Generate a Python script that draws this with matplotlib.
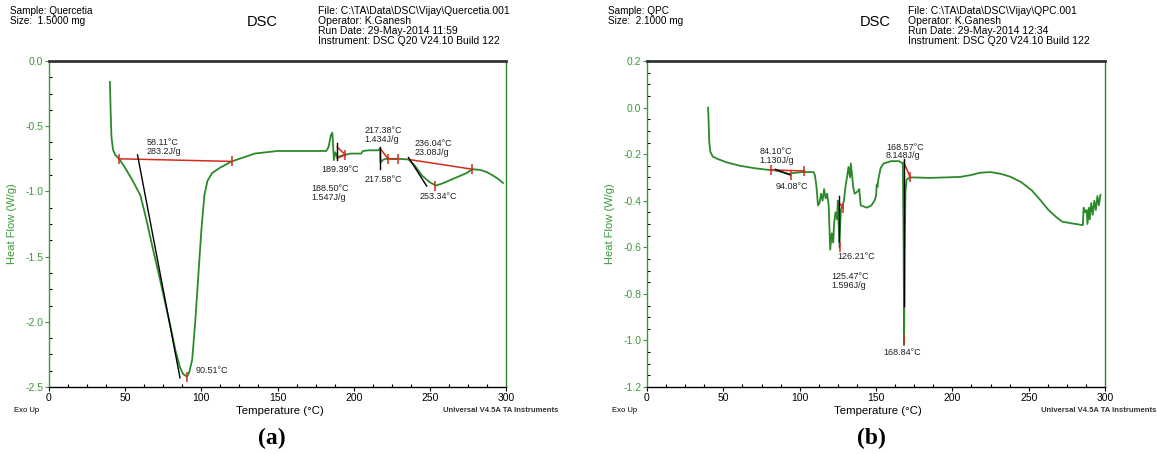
import matplotlib
matplotlib.use("Agg")
import matplotlib.pyplot as plt
from matplotlib.ticker import MultipleLocator

plt.rcParams["font.family"] = ["Liberation Sans", "DejaVu Sans"]

W, H = 1157, 454
GREEN = "#2a8a2a"
AXGREEN = "#3a9a3a"
RED = "#d42a1e"

# ---- panel (a): Quercetia ----
temp_a = [40, 40.5, 41, 42, 43.5, 46, 50, 55, 60, 64, 68, 72, 76, 80, 83, 86,
          88, 90.5, 92, 94, 96, 98, 100, 102, 104, 107, 112, 120, 135, 150,
          160, 170, 182, 183.5, 185, 186, 186.5, 187, 188, 189.4, 191, 194,
          198, 205, 206, 210, 216, 217.4, 217.6, 219, 221, 229, 236, 240, 245,
          250, 254, 258, 263, 268, 274, 278, 283, 287, 291, 295, 298]
flow_a = [-0.16, -0.4, -0.58, -0.68, -0.72, -0.75, -0.82, -0.92, -1.03, -1.22,
          -1.43, -1.63, -1.84, -2.05, -2.22, -2.35, -2.40, -2.42, -2.39, -2.29,
          -2.0, -1.65, -1.3, -1.03, -0.92, -0.86, -0.82, -0.77, -0.71, -0.69,
          -0.69, -0.69, -0.69, -0.66, -0.57, -0.55, -0.65, -0.76, -0.70, -0.74,
          -0.73, -0.72, -0.71, -0.71, -0.69, -0.685, -0.685, -0.67, -0.78,
          -0.76, -0.75, -0.75, -0.755, -0.8, -0.88, -0.93, -0.955, -0.94,
          -0.915, -0.89, -0.86, -0.83, -0.835, -0.85, -0.875, -0.905, -0.935]

# baselines (red), tangents (black), peak ticks
base_a = [((46, 120), (-0.75, -0.77)), ((189.2, 194.6), (-0.66, -0.72)),
          ((189.2, 194.6), (-0.745, -0.72)), ((217.4, 222.5), (-0.67, -0.75)),
          ((222.5, 229), (-0.75, -0.75)), ((236, 278), (-0.755, -0.83))]
tang_a = [((58.1, 86), (-0.72, -2.43)), ((189.2, 189.2), (-0.63, -0.76)),
          ((217.4, 217.4), (-0.66, -0.83)), ((236, 248), (-0.74, -0.96))]
tick_a_t = [46, 120, 90.5, 194.6, 222.5, 229, 253.3, 278]
tick_a_f = [-0.75, -0.77, -2.42, -0.72, -0.75, -0.75, -0.96, -0.83]
labels_a = ["58.11°C\n283.2J/g", "90.51°C", "188.50°C\n1.547J/g", "189.39°C",
            "217.38°C\n1.434J/g", "217.58°C", "236.04°C\n23.08J/g", "253.34°C"]
lab_a_t = [64, 96, 172, 179, 207, 207, 240, 243]
lab_a_f = [-0.59, -2.37, -0.94, -0.83, -0.5, -0.905, -0.6, -1.04]
lab_a_va = ["top", "center", "top", "center", "top", "center", "top", "center"]

# ---- panel (b): QPC ----
temp_b = [40, 40.3, 40.8, 41.5, 43, 46, 52, 61, 70, 80, 84, 89, 93, 97, 102,
          109, 110, 111, 112, 113, 114, 115, 116, 117, 118, 119, 120, 121, 122,
          122.5, 123.5, 124.5, 125, 126, 127, 128, 129, 130, 131, 132, 133,
          133.5, 134.5, 135, 136, 138, 139, 140, 144, 147, 149, 150, 150.5,
          151, 151.5, 153, 155, 160, 165, 167.6, 168.1, 168.4, 168.8, 169.3,
          170, 172, 175, 185, 195, 205, 212, 218, 225, 232, 238, 245, 252, 258,
          263, 268, 272, 278, 285.5, 286, 287, 288, 288.5, 289.5, 290, 291,
          292, 293, 294, 295, 296, 297]
flow_b = [0.0, -0.05, -0.15, -0.19, -0.21, -0.22, -0.235, -0.25, -0.26, -0.268,
          -0.27, -0.278, -0.285, -0.28, -0.277, -0.277, -0.29, -0.34, -0.42,
          -0.41, -0.37, -0.4, -0.35, -0.39, -0.37, -0.42, -0.61, -0.54, -0.58,
          -0.5, -0.45, -0.48, -0.40, -0.58, -0.44, -0.42, -0.40, -0.34, -0.3,
          -0.255, -0.3, -0.24, -0.3, -0.34, -0.37, -0.36, -0.35, -0.42, -0.43,
          -0.42, -0.40, -0.38, -0.33, -0.34, -0.31, -0.26, -0.24, -0.23, -0.23,
          -0.24, -0.6, -1.02, -0.6, -0.36, -0.31, -0.30, -0.30, -0.302, -0.30,
          -0.298, -0.29, -0.28, -0.277, -0.285, -0.297, -0.32, -0.355, -0.4,
          -0.44, -0.47, -0.49, -0.497, -0.505, -0.43, -0.45, -0.44, -0.5,
          -0.43, -0.48, -0.41, -0.46, -0.4, -0.44, -0.38, -0.42, -0.375]

base_b = [((81, 103), (-0.268, -0.272)), ((126, 128.5), (-0.41, -0.43)),
          ((168.2, 172.5), (-0.235, -0.30))]
tang_b = [((84.1, 94), (-0.265, -0.29)), ((126, 126), (-0.38, -0.6)),
          ((168.2, 168.2), (-0.22, -0.85))]
tick_b_t = [81, 103, 94.08, 128.5, 126.2, 172.5, 168.4]
tick_b_f = [-0.268, -0.272, -0.29, -0.43, -0.6, -0.30, -1.0]
labels_b = ["84.10°C\n1.130J/g", "94.08°C", "126.21°C", "125.47°C\n1.596J/g",
            "168.57°C\n8.148J/g", "168.84°C"]
lab_b_t = [73.5, 84, 124.5, 120.5, 156.5, 154.6]
lab_b_f = [-0.17, -0.34, -0.64, -0.706, -0.15, -1.05]
lab_b_va = ["top", "center", "center", "top", "top", "center"]

headers = [
    dict(x0=10, dsc=262, x1=318, temp=280, sample="Sample: Quercetia",
         size="Size:  1.5000 mg",
         file="File: C:\\TA\\Data\\DSC\\Vijay\\Quercetia.001",
         run="Run Date: 29-May-2014 11:59", tag="(a)", tagx=272),
    dict(x0=608, dsc=875, x1=908, temp=878, sample="Sample: QPC",
         size="Size:  2.1000 mg",
         file="File: C:\\TA\\Data\\DSC\\Vijay\\QPC.001",
         run="Run Date: 29-May-2014 12:34", tag="(b)", tagx=871),
]

fig = plt.figure(figsize=(W / 100, H / 100), dpi=100)


def fx(px):
    return px / W


def fy(py):
    return 1 - py / H


def make_axes(x0, x1, ylim, ymaj, ymin):
    ax = fig.add_axes([fx(x0), fy(387), fx(x1 - x0), (387 - 61) / H])
    ax.set_xlim(0, 300)
    ax.set_ylim(*ylim)
    ax.xaxis.set_major_locator(MultipleLocator(50))
    ax.xaxis.set_minor_locator(MultipleLocator(12.5))
    ax.yaxis.set_major_locator(MultipleLocator(ymaj))
    ax.yaxis.set_minor_locator(MultipleLocator(ymin))
    ax.tick_params(axis="both", which="major", direction="out", length=3,
                   width=0.8, labelsize=7.5, pad=1)
    ax.tick_params(axis="both", which="minor", direction="in", length=2.5, width=0.8)
    ax.tick_params(axis="y", colors=AXGREEN, labelcolor=AXGREEN)
    ax.spines["left"].set_color(AXGREEN)
    ax.spines["right"].set_color(GREEN)
    ax.spines["top"].set_color("#333333")
    ax.spines["top"].set_linewidth(2)
    ax.spines["bottom"].set_color("black")
    for s in ("left", "right", "bottom"):
        ax.spines[s].set_linewidth(1)
    ax.set_ylabel("Heat Flow (W/g)", color=AXGREEN, fontsize=8, labelpad=6)
    return ax


def draw(ax, temp, flow, bases, tangs, tt, tf, labs, lt, lf, lva):
    ax.plot(temp, flow, color=GREEN, lw=1.3, zorder=2)
    for xs, ys in bases:
        ax.plot(xs, ys, color=RED, lw=1.1, zorder=3)
    for xs, ys in tangs:
        ax.plot(xs, ys, color="black", lw=1.0, zorder=3)
    ax.plot(tt, tf, ls="none", marker="|", ms=7, mew=1.1, color=RED, zorder=4)
    for s, x, y, va in zip(labs, lt, lf, lva):
        ax.text(x, y, s, fontsize=6.5, va=va, ha="left", color="#222222",
                linespacing=1.0)


ax_a = make_axes(49, 506, (-2.5, 0.0), 0.5, 0.125)
ax_a.set_yticks([0.0, -0.5, -1.0, -1.5, -2.0, -2.5])
ax_a.set_yticklabels(["0.0", "-0.5", "-1.0", "-1.5", "-2.0", "-2.5"])
draw(ax_a, temp_a, flow_a, base_a, tang_a, tick_a_t, tick_a_f,
     labels_a, lab_a_t, lab_a_f, lab_a_va)

ax_b = make_axes(647, 1105, (-1.2, 0.2), 0.2, 0.05)
ax_b.set_yticks([0.2, 0.0, -0.2, -0.4, -0.6, -0.8, -1.0, -1.2])
ax_b.set_yticklabels(["0.2", "0.0", "-0.2", "-0.4", "-0.6", "-0.8", "-1.0", "-1.2"])
draw(ax_b, temp_b, flow_b, base_b, tang_b, tick_b_t, tick_b_f,
     labels_b, lab_b_t, lab_b_f, lab_b_va)

for hd, ax, xr in zip(headers, (ax_a, ax_b), (558, 1156)):
    fig.text(fx(hd["x0"]), fy(6), hd["sample"] + "\n" + hd["size"], fontsize=7.2,
             va="top", ha="left", linespacing=1.0)
    fig.text(fx(hd["dsc"]), fy(22), "DSC", fontsize=10.5, va="center", ha="center")
    fig.text(fx(hd["x1"]), fy(6),
             "\n".join([hd["file"], "Operator: K.Ganesh", hd["run"],
                        "Instrument: DSC Q20 V24.10 Build 122"]),
             fontsize=7.5, va="top", ha="left", linespacing=1.0)
    fig.text(fx(hd["x0"] + 4), fy(410), "Exo Up", fontsize=5.5, va="center")
    fig.text(fx(hd["temp"]), fy(411), "Temperature (°C)", fontsize=8.2,
             va="center", ha="center")
    fig.text(fx(xr), fy(410), "Universal V4.5A TA Instruments", fontsize=5.5,
             va="center", ha="right", fontweight="bold", color="#333333")
    fig.text(fx(hd["tagx"]), fy(438), hd["tag"], fontsize=17, fontweight="bold",
             family=["Liberation Serif", "DejaVu Serif"], va="center", ha="center")

fig.savefig("out.png", dpi=100)
